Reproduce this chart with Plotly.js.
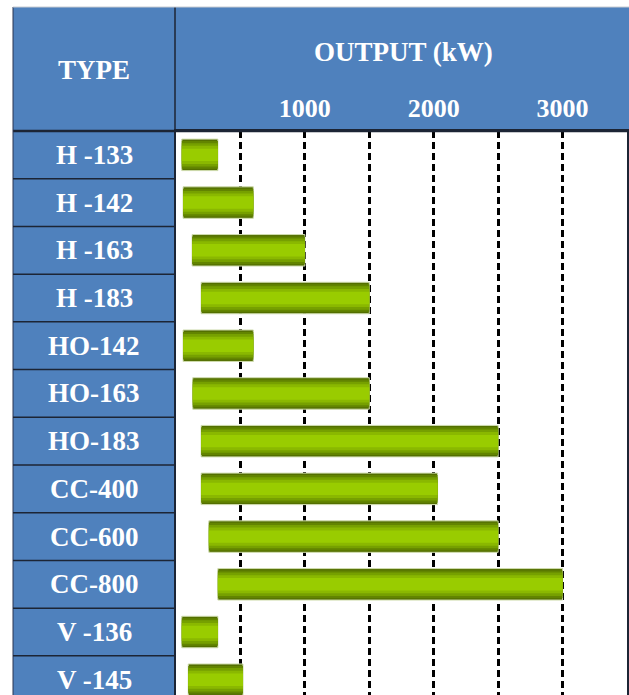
<!DOCTYPE html>
<html>
<head>
<meta charset="utf-8">
<script src="https://cdn.plot.ly/plotly-3.0.1.min.js"></script>
<style>
html,body{margin:0;padding:0;overflow:hidden;background:#fff;}
#chart{width:629px;height:695px;}
</style>
</head>
<body>
<div id="chart"></div>
<script>
// ---- data ----
var types    = ['H -133','H -142','H -163','H -183','HO-142','HO-163','HO-183','CC-400','CC-600','CC-800','V -136','V -145'];
var startKW  = [45, 55, 125, 195, 55, 130, 195, 195, 255, 325, 45, 95];
var endKW    = [325, 600, 1000, 1500, 600, 1500, 2500, 2030, 2500, 3000, 325, 520];
var gridKW   = [500, 1000, 1500, 2000, 2500, 3000];
var gridText = ['', '1000', '', '2000', '', '3000'];

var lengths = endKW.map(function(e, i){ return e - startKW[i]; });

var BLUE = '#4F81BD';
var DARK = '#1c2535';
var FONT = 'Liberation Serif, Times New Roman, serif';

// gradient layers (outer dark -> inner bright)
var layers = [
  {w: 0.66, c: '#536f00', line: {color: '#cfdcae', width: 1}},
  {w: 0.58, c: '#628400'},
  {w: 0.49, c: '#76a000'},
  {w: 0.38, c: '#8ab800'},
  {w: 0.26, c: '#99cc00'}
];
var traces = layers.map(function(l){
  return {
    type: 'bar', orientation: 'h',
    y: types, x: lengths, base: startKW,
    width: l.w,
    marker: {color: l.c, line: l.line || {width: 0}},
    hoverinfo: 'skip', showlegend: false
  };
});

// layout geometry
var L = 176, R = 2, T = 131, B = 0, W = 629, H = 695;
var pw = W - L - R, ph = H - T - B;
function px2x(px){ return (px - L) / pw; }
function py2y(py){ return (H - B - py) / ph; }

var shapes = [
  {type: 'rect', xref: 'paper', yref: 'paper', x0: px2x(13), x1: 0, y0: 0, y1: py2y(7),
   fillcolor: BLUE, line: {width: 0}, layer: 'below'},
  {type: 'rect', xref: 'paper', yref: 'paper', x0: px2x(13), x1: px2x(629), y0: 1, y1: py2y(7),
   fillcolor: BLUE, line: {width: 0}, layer: 'below'},
  {type: 'line', xref: 'paper', yref: 'paper', x0: px2x(13), x1: px2x(627), y0: 1, y1: 1,
   line: {color: DARK, width: 2.5}},
  {type: 'line', xref: 'paper', yref: 'paper', x0: px2x(175), x1: px2x(175), y0: 1, y1: py2y(7),
   line: {color: DARK, width: 1.5}},
  {type: 'line', xref: 'paper', yref: 'paper', x0: px2x(13), x1: px2x(13), y0: 0, y1: py2y(7),
   line: {color: '#2a3550', width: 1}},
  {type: 'line', xref: 'paper', yref: 'paper', x0: px2x(13), x1: px2x(629), y0: py2y(7), y1: py2y(7),
   line: {color: '#c8ccd2', width: 1}}
];
for (var i = 0; i < types.length - 1; i++) {
  shapes.push({type: 'line', xref: 'paper', yref: 'y', x0: px2x(13), x1: 0, y0: i + 0.5, y1: i + 0.5,
    line: {color: DARK, width: 1.5}});
}

var annFont = {family: FONT, size: 27, color: '#ffffff', weight: 'bold'};
var annotations = [
  {xref: 'paper', yref: 'paper', x: px2x(94), y: py2y(70), text: 'TYPE', showarrow: false,
   xanchor: 'center', yanchor: 'middle', font: annFont},
  {xref: 'paper', yref: 'paper', x: px2x(403), y: py2y(52), text: 'OUTPUT (kW)', showarrow: false,
   xanchor: 'center', yanchor: 'middle', font: annFont}
];
types.forEach(function(t){
  annotations.push({xref: 'paper', yref: 'y', x: px2x(94), y: t, text: t, showarrow: false,
    xanchor: 'center', yanchor: 'middle', font: annFont});
});

var layout = {
  width: W, height: H,
  margin: {l: L, r: R, t: T, b: B, pad: 0},
  paper_bgcolor: '#ffffff', plot_bgcolor: '#ffffff',
  barmode: 'overlay',
  showlegend: false,
  xaxis: {
    range: [0, 3500], side: 'top', fixedrange: true,
    tickmode: 'array', tickvals: gridKW, ticktext: gridText,
    tickfont: {family: FONT, size: 26, color: '#ffffff', weight: 'bold'},
    ticks: '', ticklabelstandoff: 1,
    showgrid: true, gridcolor: '#000000', gridwidth: 3, griddash: '7px,4px',
    showline: true, linecolor: DARK, linewidth: 2.5, mirror: false,
    zeroline: false
  },
  yaxis: {
    type: 'category', categoryorder: 'array', categoryarray: types,
    range: [11.32, -0.5], fixedrange: true,
    showticklabels: false, ticks: '', showgrid: false, zeroline: false,
    showline: true, linecolor: DARK, linewidth: 2, mirror: true
  },
  shapes: shapes,
  annotations: annotations
};

Plotly.newPlot('chart', traces, layout, {displayModeBar: false, staticPlot: true});
</script>
</body>
</html>
